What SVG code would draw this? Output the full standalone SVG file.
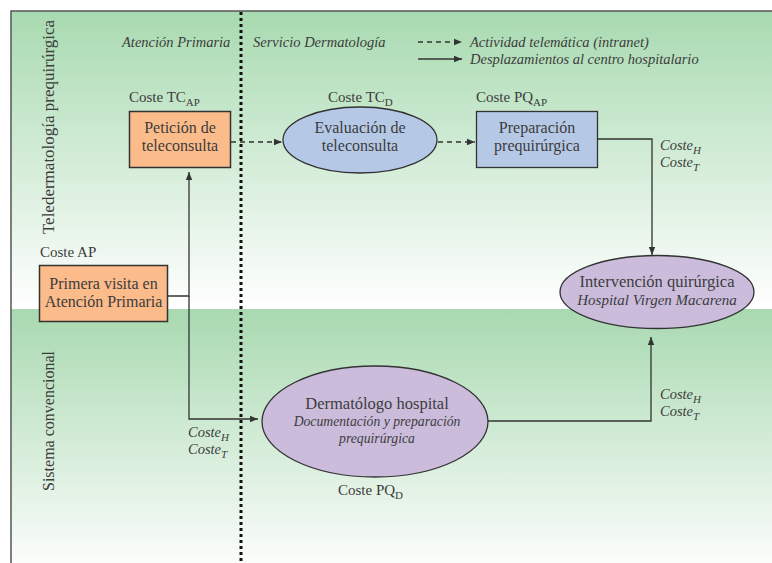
<svg xmlns="http://www.w3.org/2000/svg" width="772" height="563" viewBox="0 0 772 563" font-family="'Liberation Serif', 'DejaVu Serif', serif">
<defs>
<linearGradient id="gTop" x1="0" y1="0" x2="0" y2="1">
<stop offset="0" stop-color="#a8dab0"/>
<stop offset="1" stop-color="#ffffff"/>
</linearGradient>
<linearGradient id="gBot" x1="0" y1="0" x2="0" y2="1">
<stop offset="0" stop-color="#a8d9b0"/>
<stop offset="1" stop-color="#fbfdfb"/>
</linearGradient>
<marker id="ah" viewBox="0 0 10 10" refX="10" refY="5" markerWidth="8" markerHeight="8" markerUnits="userSpaceOnUse" orient="auto">
<path d="M0,1 L10,5 L0,9 z" fill="#333"/>
</marker>
</defs>
<style>
text{font-family:'Liberation Serif','DejaVu Serif',serif;fill:#3c3c3c}
.n{font-size:16px}
.i{font-style:italic;font-size:14.5px}
.c{font-size:15px}
.ln{fill:none;stroke:#333;stroke-width:1.3}
.ds{fill:none;stroke:#333;stroke-width:1.3;stroke-dasharray:5,4}
.or{fill:#fcbb8b;stroke:#333;stroke-width:1.5}
.bl{fill:#b5c9e7;stroke:#333;stroke-width:1.3}
.pu{fill:#cbbcdc;stroke:#333;stroke-width:1.3}
</style>
<rect x="0" y="0" width="772" height="563" fill="#ffffff"/>
<rect x="11" y="11" width="761" height="298" fill="url(#gTop)"/>
<rect x="11" y="309" width="761" height="254" fill="url(#gBot)"/>
<path d="M11,563 V11 H772" fill="none" stroke="#555" stroke-width="1.5"/>
<line x1="241" y1="12" x2="241" y2="563" stroke="#111" stroke-width="3" stroke-dasharray="3,3"/>

<g id="headers">
<text class="i" x="122" y="47">Atención Primaria</text>
<text class="i" x="253" y="47">Servicio Dermatología</text>
<text transform="translate(54,127) rotate(-90)" text-anchor="middle" font-size="17">Teledermatología prequirúrgica</text>
<text transform="translate(54,421) rotate(-90)" text-anchor="middle" font-size="16">Sistema convencional</text>
</g>

<g id="legend">
<line class="ds" x1="418" y1="42" x2="462" y2="42" marker-end="url(#ah)"/>
<line class="ln" x1="418" y1="59" x2="462" y2="59" marker-end="url(#ah)"/>
<text class="i" x="470" y="47">Actividad telemática (intranet)</text>
<text class="i" x="470" y="64">Desplazamientos al centro hospitalario</text>
</g>

<g id="connectors">
<line class="ds" x1="231" y1="142" x2="282" y2="142" marker-end="url(#ah)"/>
<line class="ds" x1="438" y1="142" x2="475" y2="142" marker-end="url(#ah)"/>
<path class="ln" d="M598,139 H652 V255" marker-end="url(#ah)"/>
<path class="ln" d="M168,296 H189 V172" marker-end="url(#ah)"/>
<path class="ln" d="M189,296 V419 H258" marker-end="url(#ah)"/>
<path class="ln" d="M488,421 H651 V337" marker-end="url(#ah)"/>
<text class="i" x="660" y="150">Coste<tspan font-size="11" dy="4">H</tspan></text>
<text class="i" x="660" y="167">Coste<tspan font-size="11" dy="4">T</tspan></text>
<text class="i" x="188" y="437">Coste<tspan font-size="11" dy="4">H</tspan></text>
<text class="i" x="188" y="454">Coste<tspan font-size="11" dy="4">T</tspan></text>
<text class="i" x="660" y="399">Coste<tspan font-size="11" dy="4">H</tspan></text>
<text class="i" x="660" y="416">Coste<tspan font-size="11" dy="4">T</tspan></text>
</g>

<g id="peticion">
<text class="c" x="129" y="102">Coste TC<tspan font-size="11" dy="4">AP</tspan></text>
<rect class="or" x="129.5" y="111.5" width="101" height="56"/>
<text class="n" x="180" y="133" text-anchor="middle">Petición de</text>
<text class="n" x="180" y="151" text-anchor="middle">teleconsulta</text>
</g>

<g id="evaluacion">
<text class="c" x="328" y="102">Coste TC<tspan font-size="11" dy="4">D</tspan></text>
<ellipse class="bl" cx="360" cy="140" rx="77" ry="33"/>
<text class="n" x="360" y="133" text-anchor="middle">Evaluación de</text>
<text class="n" x="360" y="151" text-anchor="middle">teleconsulta</text>
</g>

<g id="preparacion">
<text class="c" x="476" y="102">Coste PQ<tspan font-size="11" dy="4">AP</tspan></text>
<rect class="bl" x="476.5" y="111.5" width="121" height="56"/>
<text class="n" x="537" y="133" text-anchor="middle">Preparación</text>
<text class="n" x="537" y="151" text-anchor="middle">prequirúrgica</text>
</g>

<g id="intervencion">
<ellipse class="pu" cx="657" cy="292" rx="97" ry="36.5"/>
<text x="657" y="287" text-anchor="middle" font-size="16.5">Intervención quirúrgica</text>
<text x="657" y="305" text-anchor="middle" font-size="15" font-style="italic">Hospital Virgen Macarena</text>
</g>

<g id="primera">
<text class="c" x="40" y="257">Coste AP</text>
<rect class="or" x="39.5" y="265.5" width="128" height="56"/>
<text class="n" x="103.5" y="289" text-anchor="middle">Primera visita en</text>
<text class="n" x="103.5" y="307" text-anchor="middle">Atención Primaria</text>
</g>

<g id="dermatologo">
<ellipse class="pu" cx="375" cy="421.5" rx="113" ry="55.5"/>
<text x="377" y="409" text-anchor="middle" font-size="16.5">Dermatólogo hospital</text>
<text x="377" y="426" text-anchor="middle" font-size="13.7" font-style="italic">Documentación y preparación</text>
<text x="377" y="443" text-anchor="middle" font-size="13.7" font-style="italic">prequirúrgica</text>
<text class="c" x="338" y="495">Coste PQ<tspan font-size="11" dy="4">D</tspan></text>
</g>
</svg>
